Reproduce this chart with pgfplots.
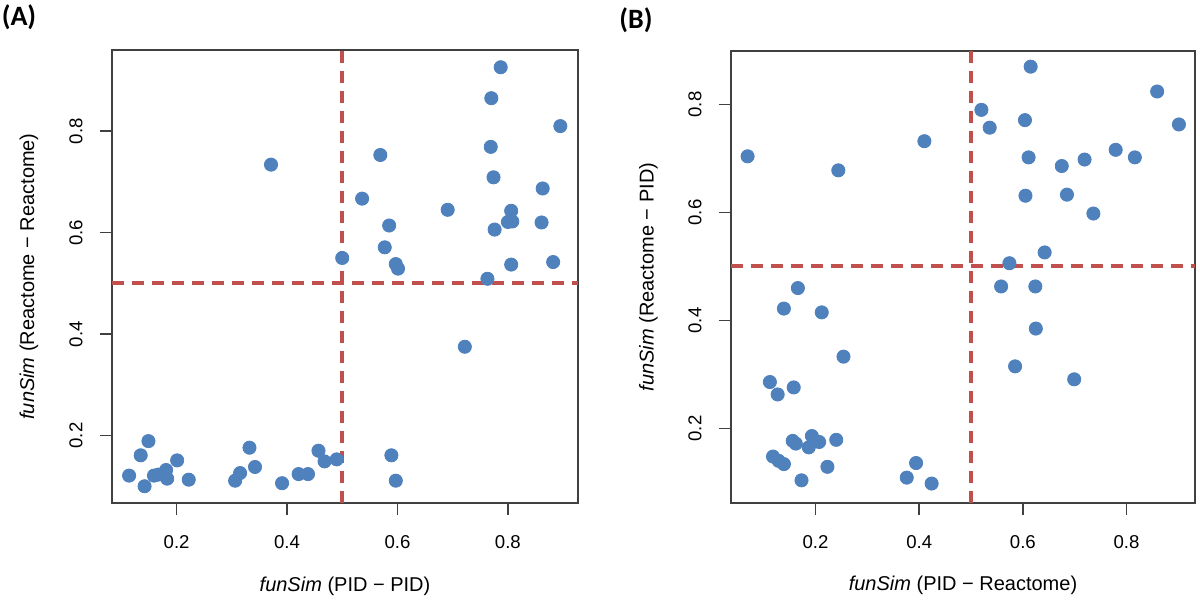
\documentclass[border=0pt]{standalone}
\usepackage{fontspec}
\setmainfont{Liberation Sans}
\newfontfamily\calibri{Carlito}
\usepackage{pgfplots}
\pgfplotsset{compat=1.18}
\definecolor{ptblue}{HTML}{4F81BD}
\definecolor{refred}{HTML}{C0504D}
\definecolor{boxgray}{HTML}{404040}

\pgfplotstableread{
x y
0.787 0.926
0.770 0.865
0.895 0.810
0.371 0.734
0.569 0.753
0.769 0.769
0.774 0.709
0.536 0.667
0.691 0.645
0.863 0.687
0.806 0.643
0.800 0.621
0.808 0.622
0.776 0.606
0.861 0.620
0.585 0.614
0.577 0.571
0.500 0.550
0.597 0.538
0.601 0.529
0.806 0.537
0.882 0.542
0.763 0.509
0.722 0.375
0.114 0.121
0.135 0.161
0.149 0.189
0.142 0.100
0.159 0.121
0.167 0.123
0.181 0.132
0.183 0.115
0.201 0.151
0.222 0.113
0.306 0.111
0.315 0.126
0.332 0.176
0.342 0.138
0.391 0.106
0.421 0.124
0.438 0.124
0.457 0.170
0.468 0.149
0.490 0.153
0.589 0.161
0.597 0.111
}\dataA

\pgfplotstableread{
x y
0.615 0.870
0.859 0.824
0.520 0.790
0.536 0.757
0.604 0.771
0.901 0.763
0.410 0.732
0.069 0.704
0.244 0.678
0.611 0.702
0.675 0.686
0.719 0.698
0.779 0.716
0.816 0.702
0.605 0.631
0.685 0.633
0.736 0.598
0.642 0.526
0.574 0.506
0.558 0.463
0.624 0.463
0.625 0.385
0.585 0.315
0.699 0.291
0.166 0.460
0.139 0.422
0.212 0.415
0.254 0.333
0.112 0.286
0.158 0.276
0.127 0.263
0.193 0.186
0.156 0.177
0.162 0.172
0.207 0.175
0.240 0.179
0.187 0.165
0.118 0.148
0.129 0.140
0.139 0.134
0.223 0.129
0.173 0.104
0.394 0.136
0.376 0.109
0.424 0.098
}\dataB

\pgfplotsset{
  rstyle/.style={
    scale only axis,
    axis line style={boxgray, line width=0.75pt},
    tick pos=left,
    tick align=outside,
    major tick length=6pt,
    tick style={boxgray, line width=0.75pt},
    xtick={0.2,0.4,0.6,0.8},
    ytick={0.2,0.4,0.6,0.8},
    xticklabels={0.2,0.4,0.6,0.8},
    yticklabels={0.2,0.4,0.6,0.8},
    ticklabel style={font=\fontsize{9.3}{11}\selectfont, text=black},
    xticklabel style={anchor=center},
    xticklabel shift=13.4pt,
    yticklabel style={rotate=90, anchor=center},
    yticklabel shift=12pt,
    label style={font=\fontsize{9.3}{11}\selectfont, text=black},
    every axis x label/.style={at={(axis description cs:0.5,-0.183)}, anchor=center},
    every axis y label/.style={at={(axis description cs:-0.178,0.5)}, anchor=center, rotate=90},
    clip=true,
  },
  pts/.style={only marks, mark=*, mark size=3.3pt, draw=ptblue, fill=ptblue},
  refl/.style={refred, line width=2pt, dash pattern=on 6pt off 4pt},
}

\begin{document}
\begin{tikzpicture}
\useasboundingbox (0,0) rectangle (600pt,304.5pt);
\begin{axis}[rstyle,
  at={(56pt,53pt)}, anchor=south west,
  width=233pt, height=226.5pt,
  xmin=0.083, xmax=0.927, ymin=0.067, ymax=0.960,
  xlabel={\textit{funSim} (PID − PID)},
  ylabel={\textit{funSim} (Reactome − Reactome)},
]
\addplot[pts] table[x=x,y=y] {\dataA};
\addplot[refl] coordinates {(0.5,0.067) (0.5,0.960)};
\addplot[refl] coordinates {(0.083,0.5) (0.927,0.5)};
\end{axis}
\begin{axis}[rstyle,
  at={(365.5pt,53pt)}, anchor=south west,
  width=232pt, height=226pt,
  xmin=0.037, xmax=0.932, ymin=0.062, ymax=0.899,
  xlabel={\textit{funSim} (PID − Reactome)},
  ylabel={\textit{funSim} (Reactome − PID)},
]
\addplot[pts] table[x=x,y=y] {\dataB};
\addplot[refl] coordinates {(0.5,0.062) (0.5,0.899)};
\addplot[refl] coordinates {(0.037,0.5) (0.932,0.5)};
\end{axis}
\node[font=\calibri\bfseries\fontsize{14}{16}\selectfont] at (9.5pt,296pt) {(A)};
\node[font=\calibri\bfseries\fontsize{14}{16}\selectfont] at (318pt,294.5pt) {(B)};
\end{tikzpicture}
\end{document}
